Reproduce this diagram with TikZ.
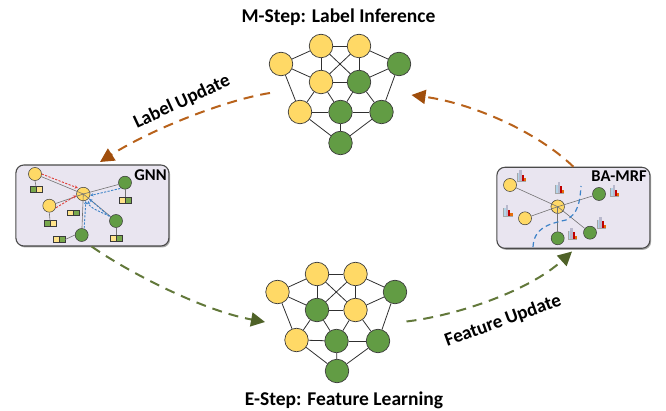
\documentclass[tikz,border=0pt]{standalone}
\usepackage{fontspec}
\setmainfont{Carlito}
\usetikzlibrary{arrows.meta,shadows}

\definecolor{ylw}{HTML}{FFD966}
\definecolor{grn}{HTML}{629C44}
\definecolor{ylwl}{HTML}{FFE38A}
\definecolor{grnl}{HTML}{78A84C}
\definecolor{nodeline}{HTML}{3A3A3A}
\definecolor{edgecol}{HTML}{303030}
\definecolor{panelfill}{HTML}{E9E5F0}
\definecolor{panelline}{HTML}{4A4A4A}
\definecolor{brownline}{HTML}{B8621B}
\definecolor{brownhead}{HTML}{A04E0C}
\definecolor{oliveline}{HTML}{62783A}
\definecolor{olivehead}{HTML}{4F6228}
\definecolor{msgred}{HTML}{E0403A}
\definecolor{msgblue}{HTML}{3C82C8}
\definecolor{barblue}{HTML}{B3D4E8}
\definecolor{bargray}{HTML}{B8B8CC}
\definecolor{barred}{HTML}{C00000}
\definecolor{barorange}{HTML}{E46C0A}

% a two-cell feature vector drawn as a pair of small squares
\newcommand\featpair[4]{%
  \node[fsq,fill=#3,anchor=east] (#1a) at (#2) {};
  \node[fsq,fill=#4,anchor=west] (#1b) at (#2) {};}
% a tiny bar-chart icon, baseline centred at the given point
\newcommand\barsicon[1]{%
  \begin{scope}[shift={(#1)}]
    \fill[barblue]   (-4.8,0) rectangle (-2.5,-8);
    \fill[bargray]   (-2.5,0) rectangle (-0.2,-11);
    \fill[barred]    (-0.2,0) rectangle (2.1,-6.5);
    \fill[barorange] (2.1,0) rectangle (4.4,-3.2);
    \draw[gray!70,line width=0.3pt] (-4.8,-8) -- (-4.8,0) -- (4.4,0);
  \end{scope}}

\begin{document}
\begin{tikzpicture}[x=1pt,y=-1pt,
  big/.style={circle,draw=nodeline,line width=0.7pt,minimum size=23.5pt,inner sep=0pt},
  ybig/.style={big,fill=ylw},
  gbig/.style={big,fill=grn},
  sm/.style={circle,draw=nodeline,line width=0.5pt,minimum size=13pt,inner sep=0pt},
  ysm/.style={sm,fill=ylw},
  gsm/.style={sm,fill=grn},
  fsq/.style={rectangle,draw=nodeline,line width=0.4pt,minimum size=5.8pt,inner sep=0pt},
  link/.style={draw=edgecol,line width=0.8pt},
  thinlink/.style={draw=gray!90!black,line width=0.6pt},
  msg/.style={dashed,dash pattern=on 2.2pt off 1.4pt,line width=0.9pt,-{Stealth[length=3.2pt,width=3.2pt]}},
  title/.style={font=\bfseries\fontsize{19.5}{22}\selectfont},
  flowlabel/.style={font=\bfseries\fontsize{19}{22}\selectfont},
  boxlabel/.style={font=\bfseries\fontsize{16.5}{18}\selectfont},
  panel/.style={rectangle,rounded corners=8pt,draw=panelline,line width=1.1pt,fill=panelfill,
    minimum width=153pt,minimum height=81pt,
    drop shadow={shadow xshift=1.2pt,shadow yshift=-1.5pt,opacity=0.35,fill=black}},
  bigflow/.style={line width=2pt,dash pattern=on 10pt off 7pt},
  brownflow/.style={bigflow,draw=brownline,-{Triangle[length=14pt,width=14pt,fill=brownhead,color=brownhead]}},
  oliveflow/.style={bigflow,draw=oliveline,-{Triangle[length=14pt,width=14pt,fill=olivehead,color=olivehead]}},
]
\useasboundingbox (0,0) rectangle (666,411);

% ---------------- titles ----------------
\node[title,anchor=base] (mtitle) at (338.5,23) {M-Step: Label Inference};
\node[title,anchor=base] (etitle) at (344,405) {E-Step: Feature Learning};

% ---------------- M-step graph ----------------
\node[ybig] (t1) at (321,46) {};
\node[ybig] (t2) at (359,46) {};
\node[ybig] (t3) at (281,64) {};
\node[gbig] (t4) at (399,64) {};
\node[ybig] (t5) at (321,82) {};
\node[gbig] (t6) at (359,82) {};
\node[ybig] (t7) at (300,112) {};
\node[gbig] (t8) at (340.5,112) {};
\node[gbig] (t9) at (381.5,112) {};
\node[gbig] (t10) at (340.5,143) {};

% ---------------- E-step graph ----------------
\node[ybig] (b1) at (317,274) {};
\node[ybig] (b2) at (355.5,274) {};
\node[ybig] (b3) at (277.5,292) {};
\node[gbig] (b4) at (395,292) {};
\node[gbig] (b5) at (317,310) {};
\node[ybig] (b6) at (355.5,310) {};
\node[ybig] (b7) at (296.5,340) {};
\node[gbig] (b8) at (336.5,341) {};
\node[gbig] (b9) at (378,341) {};
\node[gbig] (b10) at (337,371) {};

\foreach \g in {t,b}{
  \foreach \a/\b in {1/2,1/3,1/5,1/6,2/5,2/6,2/4,3/5,3/7,4/6,4/9,5/6,5/7,5/8,6/8,6/9,7/8,8/9,7/10,8/10,9/10}
    \draw[link] (\g\a) -- (\g\b);
}

% ---------------- GNN panel ----------------
\node[panel] (gnnbox) at (92.4,205.5) {};
\node[boxlabel] (gnnlabel) at (150.5,175.5) {GNN};

\node[ysm] (ga) at (35,174) {};
\node[ysm] (gb) at (49.3,205.7) {};
\node[gsm] (gd) at (125,182.7) {};
\node[gsm] (ge) at (116,221) {};
\node[gsm] (gf) at (81.7,235) {};
\node[ysm,minimum size=13.5pt] (gc) at (83.3,194) {};

\featpair{fa}{36,189.5}{grnl}{ylwl}
\featpair{fb}{50,223.5}{grnl}{ylwl}
\featpair{fc}{73.3,212.7}{ylwl}{grnl}
\featpair{fd}{125,200}{ylwl}{grnl}
\featpair{fe}{116,238.5}{ylwl}{grnl}
\featpair{ff}{59,239.5}{ylwl}{grnl}

\draw[thinlink] (ga.south) -- (faa.north east);
\draw[thinlink] (gb.south) -- (fba.north east);
\draw[thinlink] (gd.south) -- (fda.north east);
\draw[thinlink] (ge.south) -- (fea.north east);
\draw[thinlink] (gf.west) -- (ffb.east);

\foreach \n in {ga,gb,gd,ge,gf}
  \draw[thinlink] (gc.center) -- (\n);

\draw[msg,msgred] (ga.east) -- ([shift={(-0.5pt,1pt)}]gc.north west);
\draw[msg,msgred] ([yshift=-2pt]gb.east) -- ([yshift=-1.5pt]gc.west);
\draw[msg,msgblue] ([yshift=-1pt]gd.south west) -- ([yshift=-1.5pt]gc.east);
\draw[msg,msgblue] ([xshift=-2pt]ge.north west) -- ([xshift=1pt]gc.south east);
\draw[msg,msgblue] ([xshift=2.5pt]gf.north) -- ([xshift=2.5pt]gc.south);
\draw[msg,msgblue] ([xshift=-1.5pt]ge.north west) .. controls (101,212) and (89,208) .. ([xshift=5pt]gc.south);

% ---------------- BA-MRF panel ----------------
\node[panel] (mrfbox) at (573.4,207.8) {};
\node[boxlabel] (mrflabel) at (619,176) {BA-MRF};

\node[ysm] (ma) at (510,185) {};
\node[ysm] (mb) at (525,218.3) {};
\node[gsm] (md) at (599,194) {};
\node[gsm] (me) at (590,232.7) {};
\node[gsm] (mf) at (557.7,238.3) {};
\node[ysm,minimum size=13.5pt] (mc) at (557.7,206.7) {};
\foreach \n in {ma,mb,md,me,mf}
  \draw[thinlink] (mc.center) -- (\n);

\barsicon{521.7,181.5}
\barsicon{560,193}
\barsicon{508.3,216.5}
\barsicon{615,196.5}
\barsicon{601.7,228}
\barsicon{572.7,239}

\draw[msgblue,line width=1.2pt,dash pattern=on 5pt off 3.5pt]
  (533,247) .. controls (534,228) and (548,224) .. (566,220)
  .. controls (578,214) and (580,202) .. (581,186);

% ---------------- flow arrows ----------------
\coordinate (luStart) at (270,93);
\coordinate (luEnd) at (100,162);
\coordinate (liEnd) at (411.5,95);
\coordinate (flEnd) at (265,322);
\coordinate (fuStart) at (406.5,321.5);
\coordinate (fuEnd) at (572,251.5);

\draw[brownflow] (luStart) .. controls (225,100) and (150,130) .. (luEnd);
\draw[brownflow] (mrfbox.north) .. controls (535,130) and (470,103) .. (liEnd);
\draw[oliveflow] ([xshift=-0.7pt]gnnbox.south) .. controls (125,270) and (200,310) .. (flEnd);
\draw[oliveflow] (fuStart) .. controls (460,315) and (530,290) .. (fuEnd);

\node[flowlabel,rotate=25] (lulabel) at (182,102) {Label Update};
\node[flowlabel,rotate=20] (fulabel) at (503,321) {Feature Update};
\end{tikzpicture}
\end{document}
